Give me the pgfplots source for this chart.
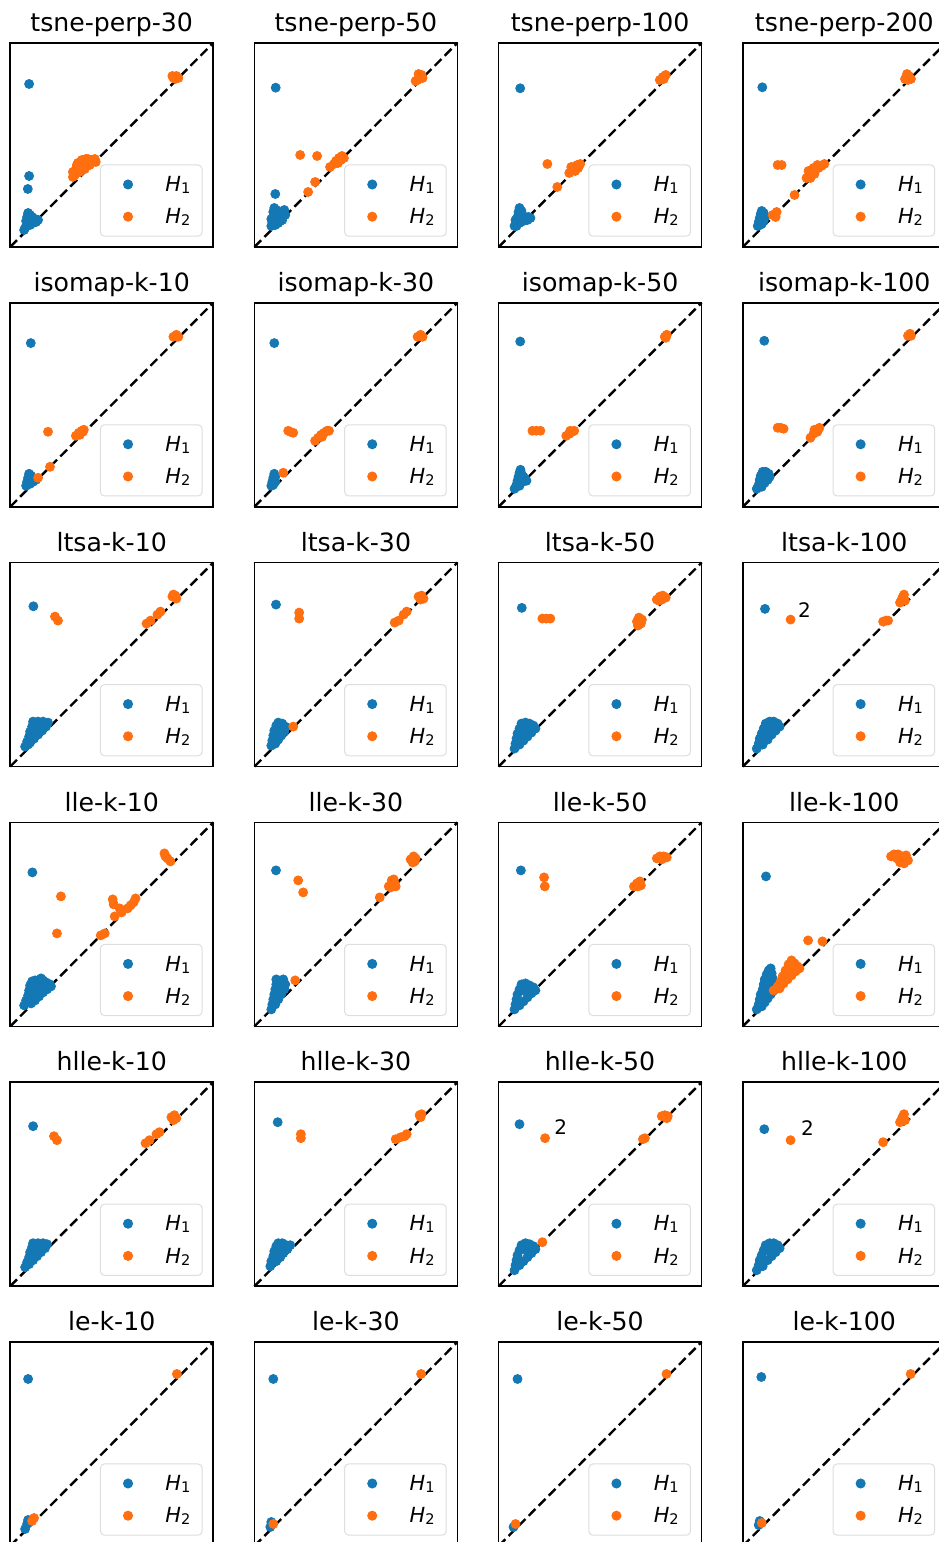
\documentclass[border=0pt]{standalone}
\usepackage{fontspec}
\setmainfont{DejaVu Sans}
\usepackage{pgfplots}
\pgfplotsset{compat=1.18}
\definecolor{tabblue}{RGB}{20,120,180}
\definecolor{taborange}{RGB}{255,110,15}
\newcommand{\leg}[1]{\makebox[13.3pt][l]{\rule[-1.2pt]{0pt}{10pt}\textit{H}\raisebox{-1pt}{\fontsize{7.3}{8}\selectfont #1}}}
\pgfplotsset{
 pstyle/.style={
   scale only axis, width=101.5pt, height=102pt,
   xmin=0,xmax=204,ymin=0,ymax=204,
   xtick=\empty, ytick=\empty, clip=false,
   axis line style={line width=0.75pt},
   anchor=south west,
   legend entries={\leg{1},\leg{2}},
   legend style={at={(0.9475,0.0505)}, anchor=south east, draw=black!13, line width=0.5pt, rounded corners=2pt, fill=white, inner xsep=5pt, inner ysep=4.6pt, row sep=5.8pt, nodes={inner sep=0pt}, cells={anchor=west}, font=\fontsize{10.4}{12}\selectfont, /tikz/every odd column/.append style={column sep=14.7pt}},
 },
 bpts/.style={only marks, mark=*, mark size=2.25pt, color=tabblue, legend image code/.code={\path[draw=none,fill=none] (-8.8pt,-5pt) rectangle (4pt,5pt); \draw[/tikz/only marks] plot coordinates {(0pt,0pt)};}},
 opts/.style={only marks, mark=*, mark size=2.25pt, color=taborange, legend image code/.code={\path[draw=none,fill=none] (-8.8pt,-5pt) rectangle (4pt,5pt); \draw[/tikz/only marks] plot coordinates {(0pt,0pt)};}},
 diag/.style={forget plot, black, line width=1.2pt, dash pattern=on 4.8pt off 2.3pt},
}
\newcommand{\panel}[5]{%
\begin{axis}[pstyle, at={(#1)}]
\addplot[bpts] coordinates {#3};
\addplot[opts] coordinates {#4};
\addplot[diag] coordinates {(0,0) (204,204)};
\node[anchor=base, inner sep=0pt, font=\fontsize{12.6}{15}\selectfont, yshift=5.65pt] at (rel axis cs:0.5,1) {#2};
#5
\end{axis}}
\newcommand{\two}[2]{\node[font=\fontsize{10}{12}\selectfont, inner sep=0pt] at (axis cs:#1,#2) {2};}
\begin{document}
\begin{tikzpicture}
\useasboundingbox (0,0) rectangle (469pt,771pt);
% Row 0: tsne
\panel{5.1pt,647.5pt}{tsne-perp-30}
{(19,163) (19,71) (17.7,58) (15,19)(17,22)(19,25)(22,27)(25,28)(28,27)(16,26)(17,30)(18,34)(20,32)(22,30)(20,22)(23,24)(26,25)(14,17)}
{(63,70)(63,75)(66,78)(70,80)(74,82)(78,85)(82,87)(85,88)(72,87)(76,88)(68,84)(65,72)(70,75)(75,78)(80,82)(67,82)(73,85)(78,88)(86,85) (164,169)(167,171)(169,169)(166,168)(163,171)}{}
\panel{127.2pt,647.5pt}{tsne-perp-50}
{(21.4,159.3) (21,53) (17,21)(18,25)(19,30)(19,35)(20,39)(22,37)(22,32)(24,28)(26,30)(28,33)(30,37)(31,32)(28,27)(24,24)(21,22)(26,26)(17,28)(20,26)}
{(46,92)(63,91)(82,86)(85,89)(88,91)(90,89)(84,84)(87,87)(80,83)(76,80)(61,65)(54,55)(164,167)(166,170)(168,172)(165,173)(169,169)(162,166)}{}
\panel{249.3pt,647.5pt}{tsne-perp-100}
{(21.7,158.7) (16,21)(18,25)(19,30)(20,35)(21,39)(23,36)(24,31)(27,30)(30,30)(32,29)(29,27)(25,26)(21,24)(18,21)(22,28)(17,27)}
{(49,83)(71,74)(74,77)(76,80)(79,82)(82,83)(77,76)(73,80)(80,79)(59,60)(162,167)(165,170)(168,172)(166,168)}{}
\panel{371.4pt,647.5pt}{tsne-perp-200}
{(19.6,159.7) (15,21)(16,25)(17,29)(18,33)(19,36)(21,34)(22,30)(21,26)(19,23)(17,22)(20,30)}
{(30,32)(34,35)(33,30)(35,82)(39,82)(52,52)(64,69)(67,72)(70,74)(73,77)(76,79)(79,81)(82,83)(66,76)(71,79)(75,82)(68,69)(72,73)(163,168)(167,171)(169,168)(165,173)(166,167)}{}
% Row 1: isomap
\panel{5.1pt,517.6pt}{isomap-k-10}
{(20.7,163.7) (16,21)(17,25)(18,29)(19,33)(21,31)(22,27)(24,28)(26,27)(20,23)(23,25)}
{(28,29)(40,40)(38,75)(66,71)(69,74)(72,76)(74,77)(70,72)(73,75)(164,170)(167,172)(169,170)}{}
\panel{127.2pt,517.6pt}{isomap-k-30}
{(20,163.7) (17,21)(18,25)(19,29)(20,33)(21,30)(21,25)(19,22)}
{(29,34)(34,76)(36,75)(39,74)(61,66)(64,69)(67,72)(70,74)(73,76)(75,76)(68,70)(164,170)(167,172)(169,170)}{}
\panel{249.3pt,517.6pt}{isomap-k-50}
{(21.7,165.3) (16,18)(18,22)(19,26)(20,30)(21,34)(22,37)(23,33)(25,30)(27,28)(28,26)(24,25)(21,21)}
{(34,76)(38,76)(42,76)(68,71)(71,73)(74,75)(76,76)(72,76)(167,170)(169,172)(168,169)}{}
\panel{371.4pt,517.6pt}{isomap-k-100}
{(21.6,166) (14,18)(16,22)(17,27)(18,31)(20,35)(23,35)(26,33)(27,30)(25,27)(22,24)(19,20)(21,29)}
{(35,79)(38,79)(41,78)(68,69)(71,73)(74,76)(77,79)(75,75)(72,77)(166,171)(169,171)(168,173)}{}
% Row 2: ltsa
\panel{5.1pt,387.7pt}{ltsa-k-10}
{(23.3,160.3) (15,20)(17,25)(19,30)(20,35)(22,40)(23,45)(28,45)(33,45)(38,44)(36,40)(32,36)(28,32)(24,28)(20,24)(26,40)(30,41)(24,35)(28,38)(22,30)(26,33)(33,40)(18,22)(21,27)}
{(45,150)(48,146)(137,143)(141,146)(148,152)(151,155)(163,170)(166,171)(167,168)(164,172)}{}
\panel{127.2pt,387.7pt}{ltsa-k-30}
{(21.7,162) (17,21)(18,26)(19,31)(20,36)(22,41)(24,44)(28,43)(31,40)(30,35)(27,31)(24,27)(21,23)(25,36)(23,32)}
{(45,154)(45,148)(39,40)(141,144)(145,146)(153,155)(150,152)(165,170)(168,171)(170,168)(167,167)}{}
\panel{249.3pt,387.7pt}{ltsa-k-50}
{(23.3,158.7) (16,18)(17,23)(18,28)(19,33)(21,38)(23,43)(27,44)(31,43)(35,41)(37,38)(33,34)(29,30)(25,26)(21,22)(26,36)(22,30)(30,38)(28,40)}
{(44,148)(48,148)(52,148)(139,145)(141,149)(143,143)(140,141)(144,147)(159,167)(162,170)(165,171)(168,169)(164,167)(161,166)}{}
\panel{371.4pt,387.7pt}{ltsa-k-100}
{(22.3,157.7) (14,18)(16,23)(17,28)(19,33)(21,38)(23,43)(27,45)(31,45)(35,43)(37,40)(33,36)(29,32)(25,27)(20,22)(25,38)(29,40)(22,32)}
{(48,147)(141,145)(144,146)(146,146)(158,164)(160,168)(162,172)(163,166)(161,170)}{\two{62}{157}}
% Row 3: lle
\panel{5.1pt,257.8pt}{lle-k-10}
{(22.3,154) (14,21)(16,26)(18,31)(19,36)(20,41)(22,45)(25,46)(28,46)(31,48)(33,46)(36,44)(40,42)(41,40)(37,37)(33,34)(29,30)(25,26)(21,23)(24,36)(28,40)(32,40)(26,31)(22,32)}
{(51,130)(47,93)(91,91)(95,93)(103,127)(104,122)(105,110)(110,118)(112,114)(121,121)(124,124)(126,128)(118,118)(155,173)(158,168)(161,165)(156,170)}{}
\panel{127.2pt,257.8pt}{lle-k-30}
{(21.7,156) (17,17)(18,22)(19,27)(20,32)(21,37)(22,42)(22,47)(26,45)(29,47)(31,42)(30,37)(27,32)(24,27)(21,22)(25,38)}
{(41,46)(44,146)(49,134)(126,129)(135,140)(138,146)(141,143)(137,139)(140,147)(142,140)(157,167)(160,170)(162,168)(159,164)(161,165)}{}
\panel{249.3pt,257.8pt}{lle-k-50}
{(22.4,156) (16,17)(17,22)(18,27)(19,32)(21,37)(23,42)(27,43)(31,41)(35,39)(37,36)(33,33)(29,29)(25,25)(21,21)(25,36)(29,36)}
{(45.7,149)(46.4,140)(136,140)(139,143)(142,145)(140,140)(143,141)(159,168)(162,170)(166,170)(169,169)(164,167)}{}
\panel{371.4pt,257.8pt}{lle-k-100}
{(23.3,150) (14,17)(16,22)(17,27)(18,32)(20,37)(21,42)(22,47)(24,52)(26,56)(28,58)(29,53)(30,48)(32,44)(33,40)(31,36)(28,32)(25,28)(22,24)(19,20)(24,40)(26,46)(22,35)(27,38)}
{(65.6,86)(80,85)(31,36)(35,40)(38,45)(40,50)(43,56)(46,62)(49,66)(52,63)(55,60)(57,58)(53,55)(49,51)(45,47)(41,43)(37,38)(44,52)(48,57)(41,48)(47,54)(52,59)(149,170)(152,172)(156,172)(160,170)(163,168)(166,166)(162,163)(158,164)(155,168)(164,171)}{}
% Row 4: hlle
\panel{5.1pt,127.9pt}{hlle-k-10}
{(23,160) (15,19)(17,24)(19,29)(20,34)(22,39)(23,43)(28,43)(33,43)(37,42)(35,38)(31,34)(27,30)(23,26)(19,22)(26,38)(30,39)(24,33)(28,35)}
{(44,150)(47,146)(136,143)(140,146)(147,152)(150,154)(162,169)(165,171)(167,168)(164,166)}{}
\panel{127.2pt,127.9pt}{hlle-k-30}
{(23.4,164) (16,20)(17,25)(19,30)(20,35)(22,40)(24,43)(28,43)(32,41)(36,41)(33,37)(29,33)(26,29)(22,25)(25,37)}
{(46.7,152)(46.7,148)(142,147)(147,149)(151,150)(153,152)(166,171)(168,172)(167,169)}{}
\panel{249.3pt,127.9pt}{hlle-k-50}
{(21,162) (16,16)(17,21)(18,26)(19,31)(21,36)(23,41)(27,43)(31,42)(35,40)(37,37)(33,33)(29,29)(25,25)(21,21)(26,37)(30,37)}
{(44,44)(46.7,148)(145,147)(147,148)(164,170)(167,171)(170,170)(169,168)}{\two{62.4}{159}}
\panel{371.4pt,127.9pt}{hlle-k-100}
{(21.6,157) (14,16)(16,21)(17,26)(19,31)(21,36)(23,41)(27,43)(31,43)(35,41)(37,38)(33,34)(29,30)(25,26)(20,20)(25,36)(29,38)}
{(48,146)(141,144)(158,164)(160,168)(162,172)(163,166)(161,170)}{\two{65}{158}}
% Row 5: le
\panel{5.1pt,-2pt}{le-k-10}
{(18,167)(15,17)(17,22)(18,26)}
{(22,25)(24,28)(167.5,172)}{}
\panel{127.2pt,-2pt}{le-k-30}
{(19,167)(16,19)(17,24)}
{(19,22)(167.5,172)}{}
\panel{249.3pt,-2pt}{le-k-50}
{(19,167)(15,19)}
{(17,22)(168.7,172)}{}
\panel{371.4pt,-2pt}{le-k-100}
{(18.6,169)(16,21)(17,25)}
{(19,23)(168.7,172)}{}
\end{tikzpicture}
\end{document}
